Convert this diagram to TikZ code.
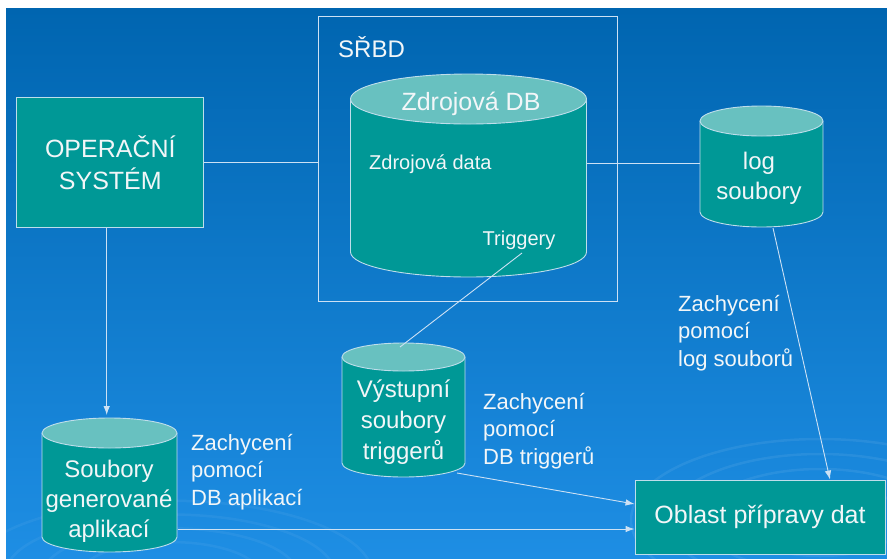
\documentclass[tikz,border=0pt]{standalone}
\usepackage{fontspec}
\setmainfont{Liberation Sans}
\usetikzlibrary{arrows.meta,calc}
\definecolor{bgtop}{RGB}{0,101,176}
\definecolor{bgmid}{RGB}{0,110,192}
\definecolor{bgbot}{RGB}{30,142,228}
\definecolor{tealbody}{RGB}{0,152,150}
\definecolor{tealtop}{RGB}{104,193,192}
\definecolor{edgec}{RGB}{190,222,235}
\definecolor{wirec}{RGB}{205,225,244}
\definecolor{txt}{RGB}{242,246,248}
\newcommand\dbcyl[5]{%
  \fill[tealbody] (#1-#4,#2) rectangle (#1+#4,#3);
  \fill[tealbody] (#1,#3) ellipse [x radius=#4,y radius=#5];
  \draw[edgec,line width=0.9pt] (#1-#4,#2) -- (#1-#4,#3) arc[start angle=180,end angle=0,x radius=#4,y radius=#5] -- (#1+#4,#2);
  \filldraw[fill=tealtop,draw=edgec,line width=0.9pt] (#1,#2) ellipse [x radius=#4,y radius=#5];
}
\begin{document}
\begin{tikzpicture}[x=1pt,y=-1pt,
  box/.style={draw=edgec,fill=tealbody,line width=0.9pt,inner sep=0pt,text=txt,align=center},
  big/.style={font=\fontsize{24}{30}\selectfont,text=txt,align=center,inner sep=0pt},
  mid/.style={font=\fontsize{20}{24}\selectfont,text=txt,inner sep=0pt},
  lbl/.style={text=txt,align=left,anchor=west,inner sep=0pt,font=\fontsize{22}{27.5}\selectfont},
  wire/.style={draw=wirec,line width=0.9pt},
  arr/.style={wire,-{Latex[length=9pt,width=6.5pt]}},
]
\useasboundingbox (0,0) rectangle (887,558);
\fill[white] (0,0) rectangle (887,558);
\shade[top color=bgtop,middle color=bgmid,bottom color=bgbot] (6,8) rectangle (887,558);
% faint swirls
\begin{scope}
  \clip (6,8) rectangle (887,558);
  \foreach \r in {60,85,110,135}{
    \draw[white,opacity=0.07,line width=2.5pt] (820,520) ellipse [x radius=\r*1.4,y radius=\r*0.6];
    \draw[white,opacity=0.05,line width=2.5pt] (170,575) ellipse [x radius=\r*1.5,y radius=\r*0.55];
  }
\end{scope}

% SRBD frame
\node[draw=wirec,line width=0.9pt,minimum width=299pt,minimum height=285pt,inner sep=0pt] (srbd) at (467.5,158.5) {};
\node[font=\fontsize{24}{28}\selectfont,text=txt,anchor=west,inner sep=0pt] (srbdlbl) at (338,47) {SŘBD};

% Zdrojova DB cylinder
\dbcyl{468.5}{99}{252}{118}{25}
\node[font=\fontsize{25}{30}\selectfont,text=txt,inner sep=0pt] (zdb) at (471,104) {Zdrojová DB};
\node[mid,anchor=west] (zdata) at (369,164) {Zdrojová data};
\node[mid] (trig) at (519,240) {Triggery};
\coordinate (zdb-r) at (586.5,163);
\coordinate (trig-foot) at (522,253);

% log cylinder
\dbcyl{761.5}{121}{212}{61.5}{15}
\node[big] (lg) at (759,178) {log\\soubory};
\coordinate (lg-l) at (700,163);
\coordinate (lg-b) at (773,228);

% OS box
\node[box,minimum width=187pt,minimum height=130pt,font=\fontsize{25}{32}\selectfont] (os) at (110.3,162.8) {OPERAČNÍ\\SYSTÉM};

% Soubory cylinder
\dbcyl{109.5}{433}{537}{67.5}{15}
\node[big] (sou) at (109,501) {Soubory\\generované\\aplikací};
\coordinate (sou-top) at (106.7,415);
\coordinate (sou-r) at (177.5,529);

% Vystupni cylinder
\dbcyl{403.5}{357}{463}{61.5}{14}
\node[big,font=\fontsize{24}{31}\selectfont] (vys) at (403.5,422) {Výstupní\\soubory\\triggerů};
\coordinate (vys-top) at (400,347);
\coordinate (vys-b) at (457,473);

% Oblast box
\node[box,minimum width=250pt,minimum height=74pt,font=\fontsize{25}{30}\selectfont] (ob) at (760,517) {Oblast přípravy dat};

% labels
\node[lbl] (l1) at (191,472) {Zachycení\\pomocí\\DB aplikací};
\node[lbl] (l2) at (483,431) {Zachycení\\pomocí\\DB triggerů};
\node[lbl] (l3) at (678,333) {Zachycení\\pomocí\\log souborů};

% connectors
\draw[wire] (os.east) -- (srbd.west |- os.east);
\draw[wire] (zdb-r) -- (lg-l);
\draw[arr] (sou-top |- os.south) -- (sou-top);
\draw[wire] (trig-foot) -- (vys-top);
\draw[arr] (vys-b) -- ($(ob.west)+(0,-13)$);
\draw[arr] (sou-r) -- (sou-r -| ob.west);
\draw[arr] (lg-b) -- (ob.north -| 830,0);
\end{tikzpicture}
\end{document}
